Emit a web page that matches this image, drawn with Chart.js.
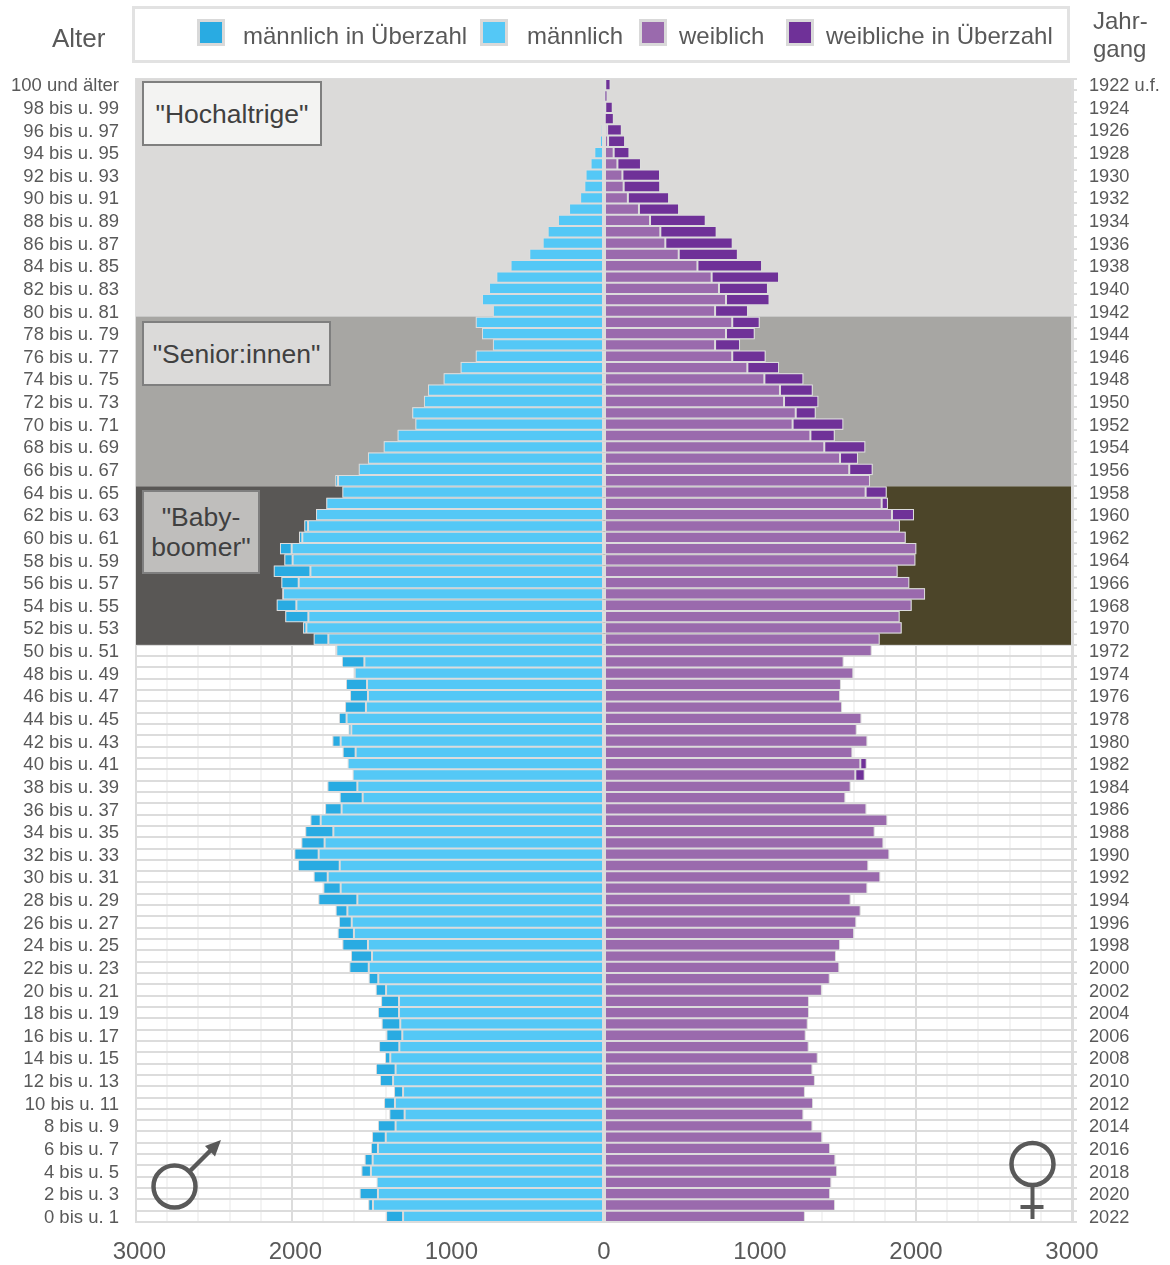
<!DOCTYPE html>
<html lang="de">
<head>
<meta charset="utf-8">
<title>Alterspyramide 2022</title>
<script src="https://cdn.jsdelivr.net/npm/chart.js@4"></script>
<style>
  html, body { margin: 0; padding: 0; background: #fff; }
  body { font-family: "Liberation Sans", Arial, sans-serif; color: #595959; }
  #wrap { position: relative; width: 1170px; height: 1265px; overflow: hidden; }
  #chart { position: absolute; left: 0; top: 0; }
  .label { position: absolute; white-space: nowrap; }
  #legend { position: absolute; left: 132px; top: 6px; width: 932px; height: 51px; border: 3px solid #e2e2e2; background: #fff; }
  .swatch { position: absolute; top: 10px; width: 22px; height: 21px; border: 3px solid #d9d9d9; }
  .legend-text { position: absolute; top: 13px; font-size: 24px; line-height: 28px; white-space: nowrap; }
  .note { position: absolute; box-sizing: border-box; border: 2px solid #7f7f7f; color: #404040; font-size: 26.5px; line-height: 30px; text-align: center; display: flex; align-items: center; justify-content: center; }
  svg { position: absolute; left: 0; top: 0; pointer-events: none; }
</style>
</head>
<body>
<div id="wrap">
  <canvas id="chart" width="1170" height="1265"></canvas>
  <div class="label" style="left:52px;top:23px;font-size:26px;line-height:30px">Alter</div>
  <div class="label" style="left:1093px;top:7px;font-size:24px;line-height:28px">Jahr-<br>gang</div>
  <div id="legend"></div>
  <div class="note" style="left:142px;top:81px;width:180px;height:65px;background:#f3f3f2">"Hochaltrige"</div>
  <div class="note" style="left:142px;top:321px;width:189px;height:65px;background:#dbdad9">"Senior:innen"</div>
  <div class="note" style="left:142px;top:490px;width:118px;height:84px;background:#bfbebc">"Baby-<br>boomer"</div>
  <svg width="1170" height="1265" fill="none" stroke="#595959">
    <circle cx="174.5" cy="1186.5" r="21" stroke-width="4.5"/>
    <line x1="190" y1="1171" x2="213" y2="1148" stroke-width="4.5"/>
    <polygon points="221,1140 205,1146 215,1156.5" fill="#595959" stroke="none"/>
    <circle cx="1032.5" cy="1164" r="21" stroke-width="4.5"/>
    <line x1="1032.5" y1="1186" x2="1032.5" y2="1219" stroke-width="4"/>
    <line x1="1020.5" y1="1207" x2="1043.5" y2="1207" stroke-width="4"/>
  </svg>
</div>

<script>
// Tick labels, every second row (oldest first)
const alterTicks = [
  '100 und älter', '98 bis u. 99', '96 bis u. 97', '94 bis u. 95', '92 bis u. 93', '90 bis u. 91',
  '88 bis u. 89', '86 bis u. 87', '84 bis u. 85', '82 bis u. 83', '80 bis u. 81', '78 bis u. 79',
  '76 bis u. 77', '74 bis u. 75', '72 bis u. 73', '70 bis u. 71', '68 bis u. 69', '66 bis u. 67',
  '64 bis u. 65', '62 bis u. 63', '60 bis u. 61', '58 bis u. 59', '56 bis u. 57', '54 bis u. 55',
  '52 bis u. 53', '50 bis u. 51', '48 bis u. 49', '46 bis u. 47', '44 bis u. 45', '42 bis u. 43',
  '40 bis u. 41', '38 bis u. 39', '36 bis u. 37', '34 bis u. 35', '32 bis u. 33', '30 bis u. 31',
  '28 bis u. 29', '26 bis u. 27', '24 bis u. 25', '22 bis u. 23', '20 bis u. 21', '18 bis u. 19',
  '16 bis u. 17', '14 bis u. 15', '12 bis u. 13', '10 bis u. 11', '8 bis u. 9', '6 bis u. 7',
  '4 bis u. 5', '2 bis u. 3', '0 bis u. 1'
];
const jahrgangTicks = [
  '1922 u.f.', '1924', '1926', '1928', '1930', '1932', '1934', '1936', '1938', '1940', '1942',
  '1944', '1946', '1948', '1950', '1952', '1954', '1956', '1958', '1960', '1962', '1964', '1966',
  '1968', '1970', '1972', '1974', '1976', '1978', '1980', '1982', '1984', '1986', '1988', '1990',
  '1992', '1994', '1996', '1998', '2000', '2002', '2004', '2006', '2008', '2010', '2012', '2014',
  '2016', '2018', '2020', '2022'
];

// Persons per single year of age, age 100 down to age 0
const maennlich = [
  8, 3, 8, 5, 20, 26, 62, 86, 118, 126, 153, 224, 295, 361, 393, 479, 599, 690, 737, 782, 712,
  822, 782, 712, 822, 919, 1028, 1128, 1154, 1229, 1209, 1323, 1412, 1513, 1572, 1722,
  1677, 1780, 1846, 1921, 1955, 2077, 2049, 2117, 2068, 2062, 2098, 2043, 1929, 1861, 1722,
  1680, 1603, 1654, 1628, 1660, 1699, 1637, 1741, 1675, 1643, 1611, 1773, 1694, 1788, 1882,
  1915, 1940, 1985, 1962, 1861, 1799, 1831, 1720, 1699, 1707, 1677, 1622, 1632, 1508, 1463,
  1429, 1449, 1425, 1395, 1442, 1404, 1462, 1436, 1346, 1410, 1376, 1449, 1487, 1494, 1534,
  1555, 1457, 1566, 1511, 1397
];
const weiblich = [
  42, 22, 56, 63, 114, 135, 163, 237, 359, 360, 417, 481, 652, 722, 825, 858, 1013, 1122, 1051, 1061, 923,
  998, 966, 872, 1036, 1122, 1278, 1338, 1374, 1357, 1534, 1479, 1675, 1628, 1722, 1705,
  1812, 1820, 1987, 1897, 1934, 2002, 1996, 1882, 1957, 2058, 1972, 1895, 1908, 1767, 1716,
  1536, 1598, 1519, 1513, 1526, 1650, 1620, 1688, 1592, 1684, 1671, 1581, 1547, 1682, 1816,
  1735, 1791, 1829, 1694, 1771, 1688, 1581, 1645, 1617, 1603, 1513, 1487, 1508, 1447, 1397,
  1314, 1314, 1306, 1293, 1312, 1370, 1336, 1352, 1288, 1340, 1278, 1336, 1399, 1449, 1483,
  1494, 1457, 1449, 1481, 1288
];

// Rows with a tick label alternate with unlabelled rows
function withBlankRows(ticks) {
  const rows = [];
  ticks.forEach((t, i) => {
    rows.push(t);
    if (i < ticks.length - 1) rows.push('');
  });
  return rows;
}
const alterRows = withBlankRows(alterTicks);
const jahrgangRows = withBlankRows(jahrgangTicks);

// The common part of both sexes is the base, the rest is the surplus ("in Überzahl")
const basis = maennlich.map((m, i) => Math.min(m, weiblich[i]));
const maennerPlus = maennlich.map((m, i) => m - basis[i]);
const frauenPlus = weiblich.map((w, i) => w - basis[i]);

const farben = {
  maennerPlus: '#29abe2',
  maenner: '#54c8f6',
  frauen: '#9a6aad',
  frauenPlus: '#6f3198'
};
const gridColor = '#dcdcdc';
const textColor = '#595959';

// Age groups behind the bars: first and last row index, colour left and right of zero
const gruppen = [
  { from: 0, to: 20, left: '#dbdad9', right: '#dbdad9' },
  { from: 21, to: 35, left: '#a7a6a3', right: '#a7a6a3' },
  { from: 36, to: 49, left: '#595755', right: '#4c4529' }
];

const gruppenPlugin = {
  id: 'gruppen',
  beforeDatasetsDraw(chart) {
    const { ctx, scales, chartArea } = chart;
    const rowH = scales.y.height / alterRows.length;
    const zero = scales.x.getPixelForValue(0);
    gruppen.forEach(g => {
      const top = scales.y.getPixelForValue(g.from) - rowH / 2;
      const h = (g.to - g.from + 1) * rowH;
      ctx.fillStyle = g.left;
      ctx.fillRect(chartArea.left, top, zero - chartArea.left, h);
      ctx.fillStyle = g.right;
      ctx.fillRect(zero, top, chartArea.right - zero - 1, h);
    });
    // Light strip under each row, so the bar gaps stay light on the dark bands
    ctx.fillStyle = gridColor;
    maennlich.forEach((m, i) => {
      const x0 = scales.x.getPixelForValue(-m);
      const x1 = scales.x.getPixelForValue(weiblich[i]);
      ctx.fillRect(x0, scales.y.getPixelForValue(i) - rowH / 2, x1 - x0, rowH);
    });
  }
};

function barSet(label, values, color) {
  return {
    label: label,
    data: values,
    backgroundColor: color,
    borderColor: gridColor,
    borderWidth: 1,
    borderSkipped: false,
    inflateAmount: 0,
    barPercentage: 1,
    categoryPercentage: 1
  };
}

const chart = new Chart(document.getElementById('chart'), {
  type: 'bar',
  data: {
    labels: alterRows,
    datasets: [
      barSet('männlich', basis.map(v => -v), farben.maenner),
      barSet('männlich in Überzahl', maennerPlus.map(v => -v), farben.maennerPlus),
      barSet('weiblich', basis, farben.frauen),
      barSet('weibliche in Überzahl', frauenPlus, farben.frauenPlus)
    ]
  },
  plugins: [gruppenPlugin],
  options: {
    indexAxis: 'y',
    responsive: false,
    animation: false,
    devicePixelRatio: 1,
    layout: { padding: { top: 79 } },
    font: { family: '"Liberation Sans", Arial, sans-serif' },
    plugins: { legend: { display: false }, tooltip: { enabled: false } },
    scales: {
      x: {
        stacked: true,
        min: -3000,
        max: 3000,
        afterFit: s => { s.height = 43; },
        border: { color: gridColor, width: 2 },
        grid: {
          drawTicks: false,
          lineWidth: 2,
          color: c => (c.tick.value % 1000 === 0 ? gridColor : '#f3f3f3')
        },
        ticks: {
          stepSize: 200,
          autoSkip: false,
          maxRotation: 0,
          padding: 16,
          color: textColor,
          font: { size: 24 },
          // leading space: the left labels sit a little right of their grid line
          callback: v => (v % 1000 === 0 ? (v < 0 ? ' ' : '') + Math.abs(v) : '')
        }
      },
      y: {
        type: 'category',
        stacked: true,
        offset: true,
        afterFit: s => { s.width = 136; },
        border: { color: gridColor, width: 2 },
        grid: { offset: true, drawTicks: false, color: gridColor, lineWidth: 2 },
        ticks: { autoSkip: false, padding: 17, labelOffset: 1.5, color: textColor, font: { size: 18.5 } }
      },
      y2: {
        type: 'category',
        position: 'right',
        axis: 'y',
        labels: jahrgangRows,
        offset: true,
        afterFit: s => { s.width = 98; },
        border: { color: gridColor, width: 3 },
        grid: { offset: true, drawOnChartArea: false, tickLength: 5, color: gridColor, lineWidth: 2 },
        ticks: { autoSkip: false, padding: 12, labelOffset: 1.5, color: textColor, font: { size: 18.2 } }
      }
    }
  }
});

// Legend built from the chart's own datasets, in the reference's order
const legendOrder = [1, 0, 2, 3];
const legendSwatchX = [62, 345, 504, 651];
const legendTextX = [108, 392, 544, 691];
const legendEl = document.getElementById('legend');
legendOrder.forEach((idx, i) => {
  const ds = chart.data.datasets[idx];
  const sw = document.createElement('div');
  sw.className = 'swatch';
  sw.style.left = legendSwatchX[i] + 'px';
  sw.style.background = ds.backgroundColor;
  const txt = document.createElement('div');
  txt.className = 'legend-text';
  txt.style.left = legendTextX[i] + 'px';
  txt.textContent = ds.label;
  legendEl.appendChild(sw);
  legendEl.appendChild(txt);
});
</script>
</body>
</html>
